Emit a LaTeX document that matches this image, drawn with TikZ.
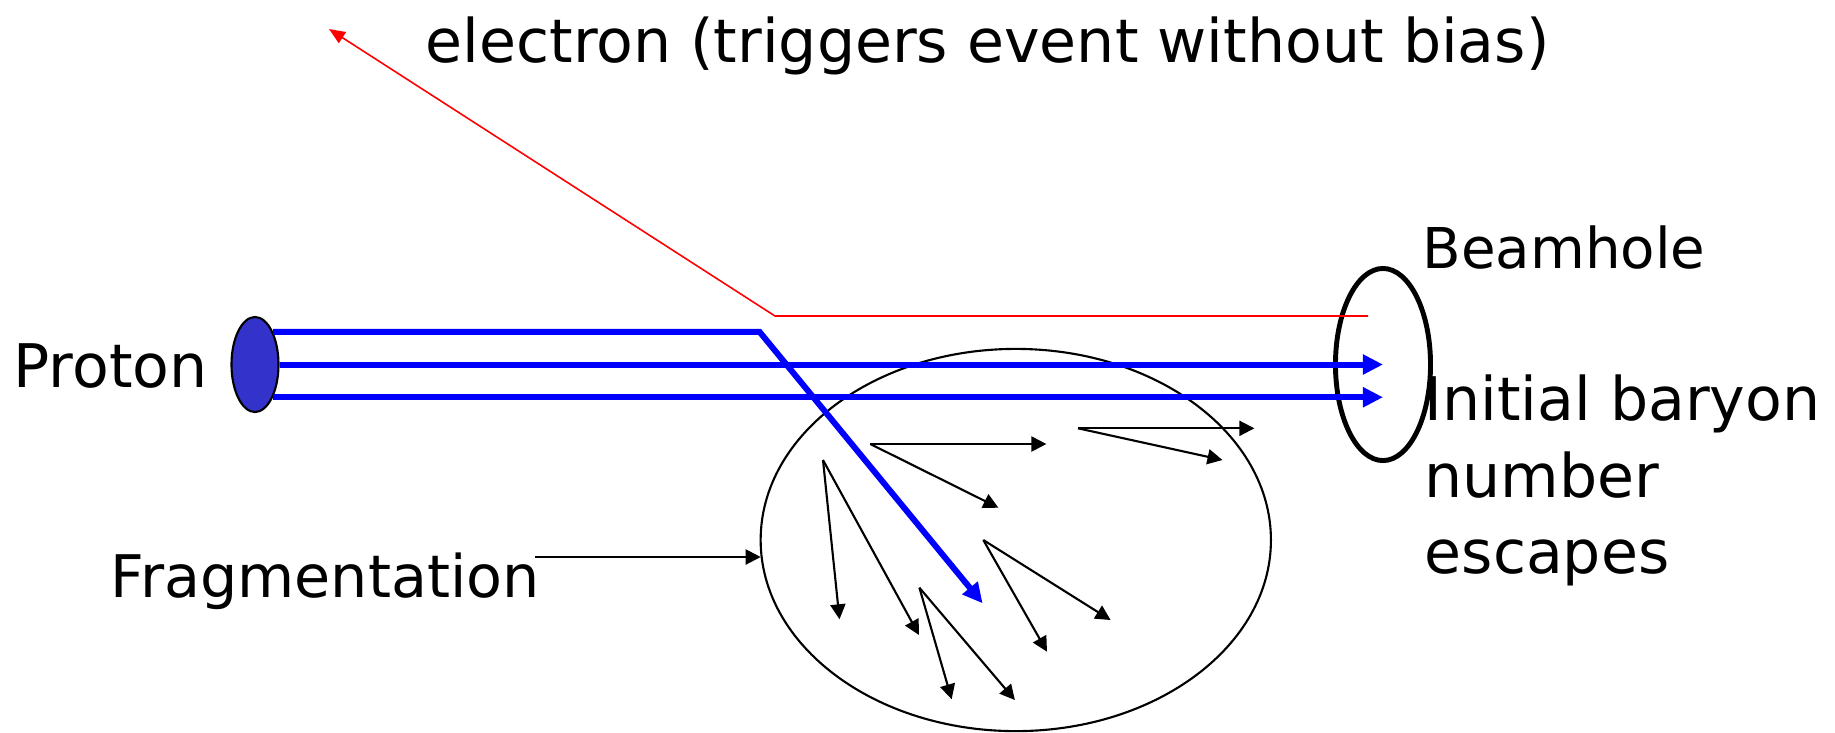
\documentclass[tikz,border=0pt]{standalone}
\usepackage{fontspec}
\setmainfont{DejaVu Sans}
\usetikzlibrary{shapes.geometric, arrows.meta, positioning}
\definecolor{protonblue}{RGB}{51,51,204}
\definecolor{quarkblue}{RGB}{0,0,255}
\definecolor{electronred}{RGB}{255,0,0}

\begin{document}
\begin{tikzpicture}[x=0.01cm, y=-0.01cm,
    lbl/.style={font=\fontsize{17.1}{20}\selectfont, inner sep=0pt, anchor=base west},
    quark/.style={quarkblue, line width=1.7pt, -{Triangle[length=0.2cm, width=0.19cm]}},
    elec/.style={electronred, line width=0.45pt, -{Triangle[length=0.16cm, width=0.13cm]}},
    spray/.style={line width=0.6pt, -{Triangle[length=0.15cm, width=0.15cm]}}]
  \useasboundingbox (0,0) rectangle (1835,732);
  % Labels
  \node[lbl] (eleclbl) at (425,62) {electron (triggers event without bias)};
  \node[lbl] (protonlbl) at (13,387) {Proton};
  \node[lbl, font=\fontsize{16}{20}\selectfont] (holelbl) at (1422,268) {Beamhole};
  \node[lbl] (initlbl) at (1424,420) {Initial baryon};
  \node[lbl] (numlbl) at (1424,497) {number};
  \node[lbl] (esclbl) at (1424,573) {escapes};
  \node[lbl, font=\fontsize{16.7}{20}\selectfont] (fraglbl) at (110,597) {Fragmentation};
  % Proton, beamhole and fragmentation region
  \node[draw, ellipse, line width=0.6pt, fill=protonblue, inner sep=0pt,
        minimum width=0.47cm, minimum height=0.95cm] (proton) at (255,364.5) {};
  \node[draw, ellipse, line width=1.4pt, inner sep=0pt,
        minimum width=0.95cm, minimum height=1.92cm] (hole) at (1383,364.5) {};
  \node[draw, ellipse, line width=0.6pt, inner sep=0pt,
        minimum width=5.1cm, minimum height=3.82cm] (fragreg) at (1015.8,540) {};
  % Electron
  \coordinate (eend) at (1368,316);
  \coordinate (ebend) at (775,316);
  \coordinate (etip) at (329,29);
  \draw[elec] (eend) -- (ebend) -- (etip);
  % Quarks
  \coordinate (kink) at (759.5,332);
  \coordinate (qtip) at (982.6,603.3);
  \draw[quark] (proton.61) -- (proton.61 -| kink) -- (qtip);
  \draw[quark] (proton.east) -- (proton.east -| hole);
  \draw[quark] (proton.-61) -- (proton.-61 -| hole);
  % Fragmentation pointer
  \coordinate (fragstart) at (535,557);
  \draw[spray] (fragstart) -- (fragstart -| fragreg.184);
  % Fragments
  \draw[spray] (870.3,444) -- (1046.4,444);
  \draw[spray] (870.3,444) -- (998.4,507.7);
  \draw[spray] (1078,428.3) -- (1254.4,428.3);
  \draw[spray] (1078,428.3) -- (1222.5,460);
  \draw[spray] (823,460) -- (839.5,619.3);
  \draw[spray] (823,460) -- (919,635);
  \draw[spray] (983.3,540) -- (1110.6,620);
  \draw[spray] (983.3,540) -- (1047,651.7);
  \draw[spray] (919.4,587.7) -- (951.7,699.3);
  \draw[spray] (919.4,587.7) -- (1014.9,700);
\end{tikzpicture}
\end{document}
